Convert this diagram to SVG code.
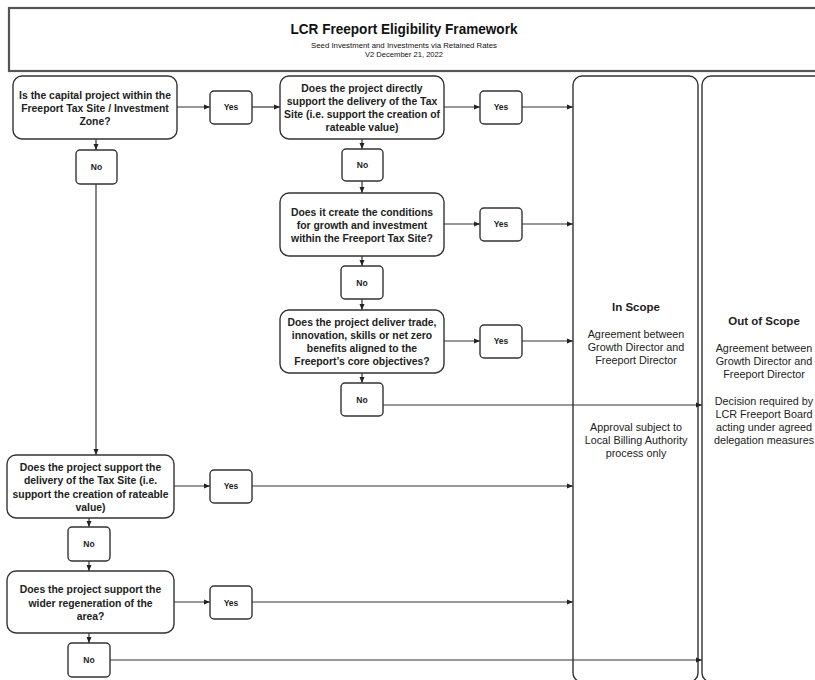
<svg xmlns="http://www.w3.org/2000/svg" width="815" height="680" viewBox="0 0 815 680">
<defs>
<marker id="ah" markerWidth="6" markerHeight="6" refX="6" refY="3" orient="auto" markerUnits="userSpaceOnUse">
<path d="M0,0.5 L6,3 L0,5.5 z" fill="#222"/>
</marker>
<style>
.box{fill:#fff;stroke:#333;stroke-width:1.4}
.hdr{fill:#fff;stroke:#555;stroke-width:2.2}
.q{font-family:"Liberation Sans",Arial,sans-serif;font-weight:bold;font-size:10.4px;text-anchor:middle;fill:#222}
.yn{font-family:"Liberation Sans",Arial,sans-serif;font-weight:bold;font-size:8.5px;text-anchor:middle;fill:#222}
.sh{font-family:"Liberation Sans",Arial,sans-serif;font-weight:bold;font-size:11.5px;text-anchor:middle;fill:#222}
.st{font-family:"Liberation Sans",Arial,sans-serif;font-size:10.8px;text-anchor:middle;fill:#222}
.c{fill:none;stroke:#333;stroke-width:1.2;marker-end:url(#ah)}
.cn{fill:none;stroke:#333;stroke-width:1.2}
</style>
</defs>
<rect width="815" height="680" fill="#fff"/>

<g id="header">
<rect class="hdr" x="9" y="8" width="830" height="63"/>
<text x="404" y="34" font-family="'Liberation Sans',Arial,sans-serif" font-weight="bold" font-size="15px" text-anchor="middle" fill="#111" textLength="227" lengthAdjust="spacingAndGlyphs">LCR Freeport Eligibility Framework</text>
<text x="404" y="47.5" font-family="'Liberation Sans',Arial,sans-serif" font-size="7.6px" text-anchor="middle" fill="#111" textLength="186" lengthAdjust="spacingAndGlyphs">Seed Investment and Investments via Retained Rates</text>
<text x="404" y="57" font-family="'Liberation Sans',Arial,sans-serif" font-size="7.6px" text-anchor="middle" fill="#111">V2 December 21, 2022</text>
</g>

<g id="in-scope">
<rect class="box" x="573" y="76" width="125" height="606" rx="9"/>
<text class="sh" x="636" y="311">In Scope</text>
<text class="st" x="636" y="338">Agreement between</text>
<text class="st" x="636" y="351">Growth Director and</text>
<text class="st" x="636" y="364">Freeport Director</text>
<text class="st" x="636" y="431">Approval subject to</text>
<text class="st" x="636" y="444">Local Billing Authority</text>
<text class="st" x="636" y="457">process only</text>
</g>

<g id="out-of-scope">
<rect class="box" x="702" y="76" width="130" height="606" rx="9"/>
<text class="sh" x="764" y="325">Out of Scope</text>
<text class="st" x="764" y="352">Agreement between</text>
<text class="st" x="764" y="365">Growth Director and</text>
<text class="st" x="764" y="378">Freeport Director</text>
<text class="st" x="764" y="405">Decision required by</text>
<text class="st" x="764" y="418">LCR Freeport Board</text>
<text class="st" x="764" y="431">acting under agreed</text>
<text class="st" x="764" y="444">delegation measures</text>
</g>

<g id="connectors">
<path class="c" d="M177,107 H210"/>
<path class="c" d="M252,107 H280"/>
<path class="c" d="M96,139 V150"/>
<path class="c" d="M96,184 V455"/>
<path class="c" d="M444,107 H480"/>
<path class="c" d="M522,107 H573"/>
<path class="c" d="M362,139 V149"/>
<path class="c" d="M362,181 V193"/>
<path class="c" d="M444,224 H480"/>
<path class="c" d="M522,224 H573"/>
<path class="c" d="M362,256 V266"/>
<path class="c" d="M362,299 V310"/>
<path class="c" d="M444,341 H480"/>
<path class="c" d="M522,341 H573"/>
<path class="c" d="M362,373 V383"/>
<path class="c" d="M383,405 H702"/>
<path class="c" d="M174,486 H210"/>
<path class="c" d="M252,486 H573"/>
<path class="c" d="M89,518 V527"/>
<path class="c" d="M89,561 V571"/>
<path class="c" d="M174,602 H210"/>
<path class="c" d="M252,602 H573"/>
<path class="c" d="M89,633 V643"/>
<path class="c" d="M110,660 H702"/>
</g>

<g id="q1">
<rect class="box" x="13" y="76" width="164" height="63" rx="9"/>
<text class="q" x="95" y="99">Is the capital project within the</text>
<text class="q" x="95" y="112">Freeport Tax Site / Investment</text>
<text class="q" x="95" y="125">Zone?</text>
</g>
<g id="yes1"><rect class="box" x="210" y="91" width="42" height="33" rx="4"/><text class="yn" x="231" y="110">Yes</text></g>
<g id="no1"><rect class="box" x="76" y="150" width="41" height="34" rx="4"/><text class="yn" x="96.5" y="170">No</text></g>

<g id="q2">
<rect class="box" x="280" y="76" width="164" height="63" rx="9"/>
<text class="q" x="362" y="92">Does the project directly</text>
<text class="q" x="362" y="105">support the delivery of the Tax</text>
<text class="q" x="362" y="118">Site (i.e. support the creation of</text>
<text class="q" x="362" y="131">rateable value)</text>
</g>
<g id="yes2"><rect class="box" x="480" y="91" width="42" height="33" rx="4"/><text class="yn" x="501" y="110">Yes</text></g>
<g id="no2"><rect class="box" x="342" y="149" width="41" height="32" rx="4"/><text class="yn" x="362.5" y="168">No</text></g>

<g id="q3">
<rect class="box" x="280" y="193" width="164" height="63" rx="9"/>
<text class="q" x="362" y="216">Does it create the conditions</text>
<text class="q" x="362" y="229">for growth and investment</text>
<text class="q" x="362" y="242">within the Freeport Tax Site?</text>
</g>
<g id="yes3"><rect class="box" x="480" y="208" width="42" height="33" rx="4"/><text class="yn" x="501" y="227">Yes</text></g>
<g id="no3"><rect class="box" x="341" y="266" width="42" height="33" rx="4"/><text class="yn" x="362" y="285.5">No</text></g>

<g id="q4">
<rect class="box" x="280" y="310" width="164" height="63" rx="9"/>
<text class="q" x="362" y="326">Does the project deliver trade,</text>
<text class="q" x="362" y="339">innovation, skills or net zero</text>
<text class="q" x="362" y="352">benefits aligned to the</text>
<text class="q" x="362" y="365">Freeport’s core objectives?</text>
</g>
<g id="yes4"><rect class="box" x="480" y="325" width="42" height="33" rx="4"/><text class="yn" x="501" y="344">Yes</text></g>
<g id="no4"><rect class="box" x="341" y="383" width="42" height="33" rx="4"/><text class="yn" x="362" y="403">No</text></g>

<g id="q5">
<rect class="box" x="7" y="455" width="167" height="63" rx="9"/>
<text class="q" x="90.5" y="471">Does the project support the</text>
<text class="q" x="90.5" y="484">delivery of the Tax Site (i.e.</text>
<text class="q" x="90.5" y="497.5">support the creation of rateable</text>
<text class="q" x="90.5" y="511">value)</text>
</g>
<g id="yes5"><rect class="box" x="210" y="470" width="42" height="33" rx="4"/><text class="yn" x="231" y="489">Yes</text></g>
<g id="no5"><rect class="box" x="68" y="527" width="42" height="34" rx="4"/><text class="yn" x="89" y="547">No</text></g>

<g id="q6">
<rect class="box" x="7" y="571" width="167" height="62" rx="9"/>
<text class="q" x="90.5" y="593">Does the project support the</text>
<text class="q" x="90.5" y="606.5">wider regeneration of the</text>
<text class="q" x="90.5" y="620">area?</text>
</g>
<g id="yes6"><rect class="box" x="210" y="586" width="42" height="33" rx="4"/><text class="yn" x="231" y="605.5">Yes</text></g>
<g id="no6"><rect class="box" x="68" y="643" width="42" height="34" rx="4"/><text class="yn" x="89" y="663">No</text></g>
</svg>
